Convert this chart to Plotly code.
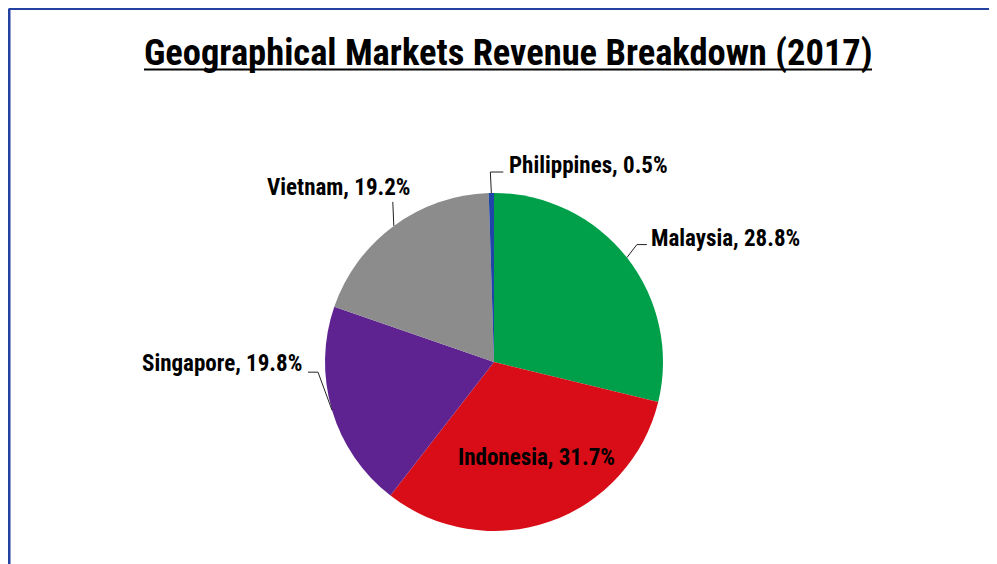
import math
import plotly.graph_objects as go

# ---- data ----
markets = ["Malaysia", "Indonesia", "Singapore", "Vietnam", "Philippines"]
shares = [28.8, 31.7, 19.8, 19.2, 0.5]
colors = ["#00A04A", "#D80D17", "#5F2391", "#8C8C8C", "#1F45A8"]
title_text = "Geographical Markets Revenue Breakdown (2017)"

W, H = 997, 564
OFF = 8  # page body margin compensation
FONT = "Roboto Condensed, Liberation Sans Narrow, Arial Narrow, Roboto, sans-serif"
LABEL_SIZE = 23

# pie placement (screen pixels)
CX, CY, R = 494, 362, 169


def px(x):
    return (x - OFF) / W


def py(y):
    return 1 - (y - OFF) / H


# label style relative to slice edge point: leader points, text offset, anchor
label_style = {
    "Malaysia": ([(10, -13), (20, -13)], (22, -19), "left"),
    "Singapore": ([(-14, -38), (-24, -38)], (-28, -47), "right"),
    "Vietnam": ([(-1, -24)], (19, -38), "right"),
    "Philippines": ([(-1, -21), (12, -21)], (16, -28), "left"),
}
inside_label = {"Indonesia": (0.617, -5.0)}  # radius fraction, angle offset (deg)

fig = go.Figure()
fig.add_trace(go.Pie(
    labels=markets, values=shares, sort=False, direction="clockwise", rotation=0,
    marker=dict(colors=colors, line=dict(width=0)),
    textinfo="none",
    domain=dict(x=[px(CX - R), px(CX + R)], y=[py(CY + R), py(CY - R)]),
    showlegend=False, hoverinfo="label+value",
))

shapes = []
annotations = []
total = sum(shares)
cum = 0.0
for m, v in zip(markets, shares):
    mid = (cum + v / 2) / total * 2 * math.pi
    cum += v
    label = f"<b>{m}, {v}%</b>"
    if m in inside_label:
        f, da = inside_label[m]
        a = mid + math.radians(da)
        annotations.append(dict(x=px(CX + f * R * math.sin(a)), y=py(CY - f * R * math.cos(a)),
                                xref="paper", yref="paper", text=label, showarrow=False,
                                xanchor="center", yanchor="middle",
                                font=dict(family=FONT, size=LABEL_SIZE, color="black")))
        continue
    ex, ey = CX + R * math.sin(mid), CY - R * math.cos(mid)
    pts, (tdx, tdy), anchor = label_style[m]
    path = f"M {px(ex)} {py(ey)}" + "".join(f" L {px(ex + dx)} {py(ey + dy)}" for dx, dy in pts)
    shapes.append(dict(type="path", xref="paper", yref="paper", path=path,
                       line=dict(color="#222222", width=1)))
    annotations.append(dict(x=px(ex + tdx), y=py(ey + tdy), xref="paper", yref="paper",
                            text=label, showarrow=False, xanchor=anchor, yanchor="middle",
                            font=dict(family=FONT, size=LABEL_SIZE, color="black")))

# frame
shapes.append(dict(type="line", xref="paper", yref="paper", x0=px(9), x1=1.02, y0=py(8.5), y1=py(8.5),
                   line=dict(color="#2341A0", width=3)))
shapes.append(dict(type="line", xref="paper", yref="paper", x0=px(9), x1=px(9), y0=py(8.5), y1=-0.02,
                   line=dict(color="#2341A0", width=3)))

# title + underline
annotations.append(dict(x=px(508), y=py(53), xref="paper", yref="paper",
                        text=f"<b>{title_text}</b>", showarrow=False,
                        xanchor="center", yanchor="middle",
                        font=dict(family=FONT, size=36.5, color="black")))
shapes.append(dict(type="line", xref="paper", yref="paper", x0=px(144), x1=px(872),
                   y0=py(69.5), y1=py(69.5), line=dict(color="black", width=2)))

fig.update_layout(width=W, height=H, margin=dict(l=0, r=0, t=0, b=0),
                  paper_bgcolor="white", plot_bgcolor="white",
                  shapes=shapes, annotations=annotations)
fig.write_html("out.html")
